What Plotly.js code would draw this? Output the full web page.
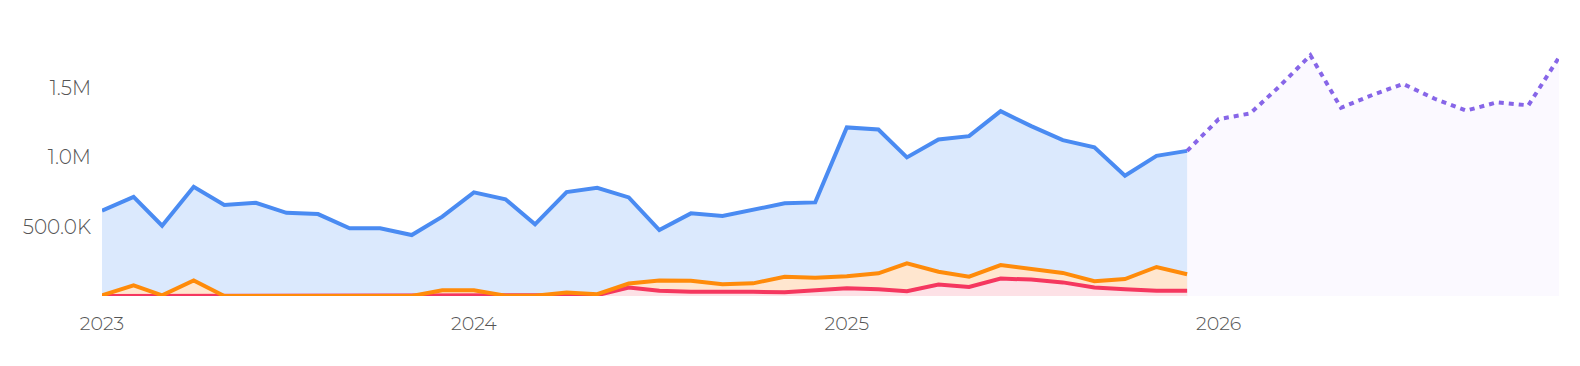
<!DOCTYPE html>
<html>
<head>
<meta charset="utf-8">
<script src="https://cdn.plot.ly/plotly-3.0.1.min.js"></script>
<style>
html,body{margin:0;padding:0;background:#fff;}
#chart{width:1580px;height:366px;}
</style>
</head>
<body>
<div id="chart"></div>
<script>
const months = [
  '2023-01-01','2023-02-01','2023-03-01','2023-04-01','2023-05-01','2023-06-01',
  '2023-07-01','2023-08-01','2023-09-01','2023-10-01','2023-11-01','2023-12-01',
  '2024-01-01','2024-02-01','2024-03-01','2024-04-01','2024-05-01','2024-06-01',
  '2024-07-01','2024-08-01','2024-09-01','2024-10-01','2024-11-01','2024-12-01',
  '2025-01-01','2025-02-01','2025-03-01','2025-04-01','2025-05-01','2025-06-01',
  '2025-07-01','2025-08-01','2025-09-01','2025-10-01','2025-11-01','2025-12-01'
];
const totalSeries = [
  614000, 714000, 506000, 786000, 655000, 671000, 599000, 590000, 487000, 487000, 439000, 571000,
  746000, 696000, 516000, 748000, 779000, 710000, 475000, 595000, 576000, 619000, 667000, 674000,
  1214000, 1199000, 998000, 1127000, 1151000, 1331000, 1223000, 1122000, 1070000, 866000, 1009000, 1045000
];
const orangeSeries = [
  5000, 77000, 5000, 112000, 0, 0, 0, 0, 0, 0, 0, 41000,
  41000, 2000, 2000, 25000, 13000, 90000, 112000, 109000, 84000, 91000, 139000, 132000,
  142000, 163000, 235000, 175000, 139000, 223000, 196000, 166000, 106000, 122000, 209000, 157000
];
const redSeries = [
  0, 0, 0, 0, 0, 0, 0, 0, 0, 0, 0, 4000,
  4000, 0, 0, 0, 6000, 61000, 38000, 31000, 27000, 30000, 27000, 38000,
  56000, 49000, 34000, 83000, 65000, 126000, 118000, 98000, 62000, 48000, 38000, 38000
];
const forecastMonths = [
  '2025-12-01','2026-01-01','2026-02-01','2026-03-01','2026-04-01','2026-05-01','2026-06-01',
  '2026-07-01','2026-08-01','2026-09-01','2026-10-01','2026-11-01','2026-12-01'
];
const forecastSeries = [
  1045000, 1273000, 1315000, 1505000, 1733000, 1355000, 1448000,
  1527000, 1420000, 1335000, 1394000, 1373000, 1718000
];
const yTickVals = [500000, 1000000, 1500000];
const yTickText = ['500.0K', '1.0M', '1.5M'];
const xTickVals = ['2023-01-01','2024-01-01','2025-01-01','2026-01-01'];
const xTickText = ['2023','2024','2025','2026'];

const C = {
  blue:'#4a8bf2', blueFill:'#dbe9fd',
  orange:'#ff8b0a', orangeFill:'#ffe6cf',
  red:'#f5375f', redFill:'#fde1e6',
  purple:'#8766e8', purpleFill:'#fbf9ff'
};

function fillTrace(x, y, color){
  return {x:x, y:y, type:'scatter', mode:'lines', fill:'tozeroy', fillcolor:color,
    line:{width:0, color:'rgba(0,0,0,0)'}, hoverinfo:'skip', showlegend:false};
}
function lineTrace(x, y, color, dash){
  return {x:x, y:y, type:'scatter', mode:'lines',
    line:{width:4, color:color, dash:dash||'solid'}, hoverinfo:'skip', showlegend:false};
}

const data = [
  fillTrace(forecastMonths, forecastSeries, C.purpleFill),
  fillTrace(months, totalSeries, C.blueFill),
  fillTrace(months, orangeSeries, C.orangeFill),
  fillTrace(months, redSeries, C.redFill),
  lineTrace(months, redSeries, C.red),
  lineTrace(months, orangeSeries, C.orange),
  lineTrace(months, totalSeries, C.blue),
  lineTrace(forecastMonths, forecastSeries, C.purple, '5px,5px')
];

const layout = {
  width:1580, height:366,
  margin:{l:102, r:21, t:46, b:70},
  paper_bgcolor:'#ffffff', plot_bgcolor:'#ffffff',
  font:{family:'Montserrat, Lato, "Open Sans", sans-serif', size:19, color:'#555555', weight:300},
  showlegend:false,
  xaxis:{
    type:'date', range:['2023-01-01','2026-12-01'],
    tickvals:xTickVals, ticktext:xTickText,
    showgrid:false, zeroline:false, showline:false, ticks:'',
    ticklabelstandoff:14, fixedrange:true
  },
  yaxis:{
    range:[0, 1800000],
    tickvals:yTickVals, ticktext:yTickText,
    tickfont:{size:20},
    showgrid:false, zeroline:false, showline:false, ticks:'',
    ticklabelstandoff:10, fixedrange:true
  }
};

Plotly.newPlot('chart', data, layout, {displayModeBar:false, staticPlot:true});
</script>
</body>
</html>
